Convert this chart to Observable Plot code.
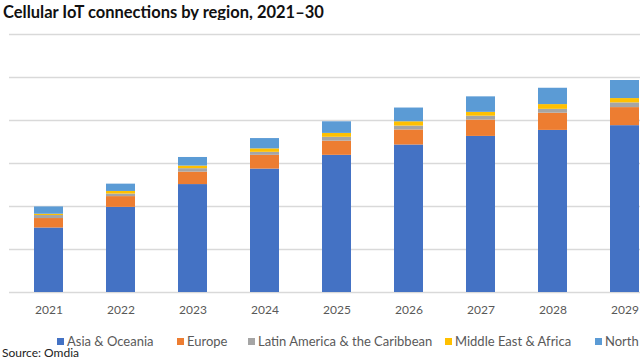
<!DOCTYPE html>
<html>
<head>
<meta charset="utf-8">
<script src="https://cdn.jsdelivr.net/npm/d3@7"></script>
<script src="https://cdn.jsdelivr.net/npm/@observablehq/plot@0.6"></script>
<style>
  html, body { margin: 0; padding: 0; background: #fff; }
  body { width: 640px; height: 360px; overflow: hidden; position: relative; font-family: Lato, "Open Sans", sans-serif; }
  #title { position: absolute; left: 3px; top: 2px; font-size: 16.5px; font-weight: bold; color: #111; white-space: nowrap; }
  #chart { position: absolute; left: 0; top: 20px; width: 735px; }
  #chart svg { max-width: none !important; }
  .leg { position: absolute; top: 332px; font-size: 13px; color: #595959; white-space: nowrap; line-height: 18px; }
  .leg span.sw { display: inline-block; width: 7px; height: 7px; margin-right: 3px; vertical-align: 1px; }
  #source { position: absolute; left: 2px; top: 345px; font-size: 12px; color: #222; white-space: nowrap; }
</style>
</head>
<body>
<div id="title">Cellular IoT connections by region, 2021–30</div>
<div id="chart"></div>
<div id="legend"></div>
<div id="source">Source: Omdia</div>
<script>
// Tick labels (2030 lies beyond the visible frame)
const years = ["2021","2022","2023","2024","2025","2026","2027","2028","2029","2030"];
// Series values (billions) for 2021–2029
const regions = ["Asia & Oceania","Europe","Latin America & the Caribbean","Middle East & Africa","North America"];
const asiaOceania   = [1.50, 1.98, 2.51, 2.87, 3.19, 3.43, 3.63, 3.77, 3.88];
const europe        = [0.22, 0.25, 0.29, 0.32, 0.33, 0.35, 0.38, 0.40, 0.42];
const latinAmerica  = [0.07, 0.06, 0.08, 0.07, 0.09, 0.09, 0.09, 0.09, 0.11];
const middleEastAfrica = [0.03, 0.06, 0.06, 0.08, 0.09, 0.10, 0.09, 0.11, 0.10];
const northAmerica  = [0.17, 0.17, 0.20, 0.24, 0.27, 0.32, 0.36, 0.38, 0.42];
const gridValues = [0, 1, 2, 3, 4, 5, 6];
const colors = ["#4472C4", "#ED7D31", "#A5A5A5", "#FFC000", "#5B9BD5"];

const series = [asiaOceania, europe, latinAmerica, middleEastAfrica, northAmerica];
const data = [];
asiaOceania.forEach((_, i) => {
  regions.forEach((r, k) => data.push({year: years[i], region: r, value: series[k][i]}));
});

const plot = Plot.plot({
  width: 735,
  height: 300,
  marginTop: 14,
  marginBottom: 28,
  marginLeft: 9,
  marginRight: 0,
  style: {fontFamily: "Lato, 'Open Sans', sans-serif", background: "#fff", maxWidth: "none"},
  x: {domain: years, paddingInner: 0.6, paddingOuter: 0.3, axis: null, label: null},
  y: {domain: [0, 6], axis: null},
  color: {domain: regions, range: colors},
  marks: [
    Plot.ruleY(gridValues, {stroke: "#d9d9d9", strokeWidth: 1.5}),
    Plot.barY(data, {x: "year", y: "value", fill: "region", order: regions}),
    Plot.axisX({tickSize: 0, tickPadding: 13, fontSize: 12, color: "#595959", label: null})
  ]
});
document.getElementById("chart").appendChild(plot);

const legendLefts = [57, 177, 248, 445, 595];
const legend = document.getElementById("legend");
regions.forEach((r, k) => {
  const d = document.createElement("div");
  d.className = "leg";
  d.style.left = legendLefts[k] + "px";
  d.innerHTML = `<span class="sw" style="background:${colors[k]}"></span>${r}`;
  legend.appendChild(d);
});
</script>
</body>
</html>
